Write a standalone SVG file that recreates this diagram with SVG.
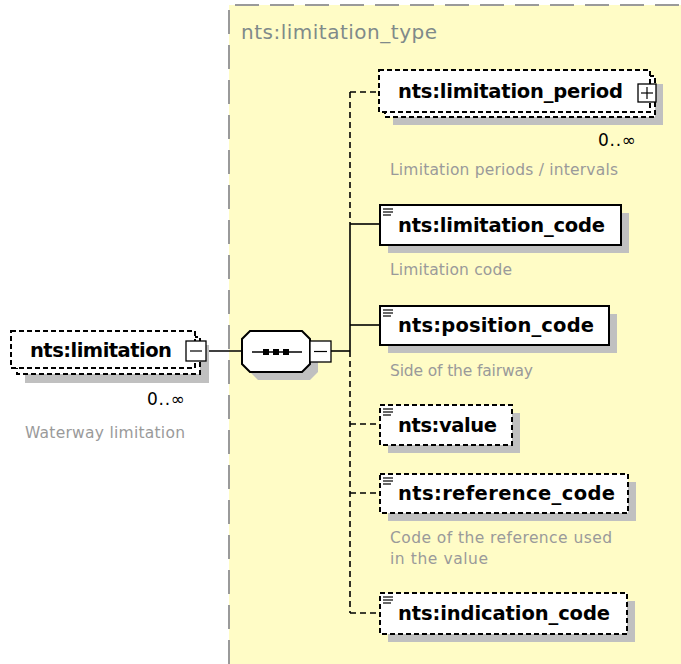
<svg xmlns="http://www.w3.org/2000/svg" width="681" height="664" viewBox="0 0 681 664">
<style>
.bgfill{fill:#fffcc6;stroke:none}
.bg{fill:none;stroke:#9a9a9a;stroke-width:2;stroke-dasharray:24 11}
.shadow{fill:#c0c0c0;stroke:none}
.box{fill:#fff;stroke:#000;stroke-width:2}
.opt{stroke-dasharray:5 3}
.btn{fill:#fff;stroke:#000;stroke-width:1.3}
.ln{fill:none;stroke:#000;stroke-width:1.6}
.dl{fill:none;stroke:#000;stroke-width:1.6;stroke-dasharray:6 4}
.ic{stroke:#000;stroke-width:1.2}
.name{font-family:"DejaVu Sans",sans-serif;font-weight:bold;font-size:19.5px;fill:#000}
.desc{font-family:"DejaVu Sans",sans-serif;font-size:15.5px;fill:#9a9a9a}
.title{font-family:"DejaVu Sans",sans-serif;font-size:20px;fill:#7f8a8a}
.mult{font-family:"DejaVu Sans",sans-serif;font-size:17px;fill:#000}
</style>
<defs>
<g id="icon"><line class="ic" x1="0" y1="0" x2="10" y2="0"/><line class="ic" x1="0" y1="3" x2="10" y2="3"/><line class="ic" x1="0" y1="6" x2="8" y2="6"/></g>
</defs>
<g id="limitation_type">
<rect class="bgfill" x="229" y="5" width="460" height="670"/>
<path class="bg" d="M229 664 V5 H690"/>
<text class="title" x="241" y="39" textLength="196">nts:limitation_type</text>
</g>
<g id="connectors">
<line class="ln" x1="206" y1="351" x2="242" y2="351"/>
<line class="ln" x1="331" y1="351" x2="350" y2="351"/>
<line class="dl" x1="350" y1="92" x2="350" y2="224"/>
<line class="ln" x1="350" y1="224" x2="350" y2="351"/>
<line class="dl" x1="350" y1="351" x2="350" y2="613"/>
<line class="dl" x1="350" y1="92" x2="379" y2="92"/>
<line class="ln" x1="350" y1="224" x2="380" y2="224"/>
<line class="ln" x1="350" y1="325" x2="380" y2="325"/>
<line class="dl" x1="350" y1="424" x2="380" y2="424"/>
<line class="dl" x1="350" y1="493" x2="380" y2="493"/>
<line class="dl" x1="350" y1="613" x2="380" y2="613"/>
</g>
<g id="limitation">
<rect class="shadow" x="25" y="345" width="184" height="38"/>
<rect class="box opt" x="17" y="337" width="183" height="37"/>
<rect class="box opt" x="11" y="331" width="184" height="37"/>
<text class="name" x="30" y="357" textLength="142">nts:limitation</text>
<rect class="btn" x="186" y="341" width="20" height="20"/>
<line class="ic" x1="190" y1="351" x2="202" y2="351"/>
<text class="mult" x="147" y="405" textLength="38">0..∞</text>
<text class="desc" x="25" y="438" textLength="160">Waterway limitation</text>
</g>
<g id="sequence">
<polygon class="shadow" points="258,339 310,339 318,347 318,372 310,380 258,380 250,372 250,347"/>
<polygon class="box" points="250,331 302,331 310,339 310,364 302,372 250,372 242,364 242,339"/>
<line class="ln" x1="252" y1="352" x2="302" y2="352"/>
<rect x="263" y="349" width="6" height="6" fill="#000"/>
<rect x="273" y="349" width="6" height="6" fill="#000"/>
<rect x="283" y="349" width="6" height="6" fill="#000"/>
<rect class="btn" x="310" y="341" width="21" height="21"/>
<line class="ic" x1="314" y1="351.5" x2="327" y2="351.5"/>
</g>
<g id="limitation_period">
<rect class="shadow" x="393" y="84" width="270" height="41"/>
<rect class="box opt" x="385" y="76" width="270" height="41"/>
<rect class="box opt" x="379" y="70" width="271" height="42"/>
<text class="name" x="398" y="98" textLength="225">nts:limitation_period</text>
<rect class="btn" x="638" y="84" width="18" height="18"/>
<line class="ic" x1="641" y1="93" x2="653" y2="93"/>
<line class="ic" x1="647" y1="87" x2="647" y2="99"/>
<text class="mult" x="598" y="146" textLength="38">0..∞</text>
<text class="desc" x="390" y="175" textLength="228">Limitation periods / intervals</text>
</g>
<g id="limitation_code">
<rect class="shadow" x="388" y="213" width="241" height="40"/>
<rect class="box" x="380" y="205" width="241" height="40"/>
<use href="#icon" x="383" y="209"/>
<text class="name" x="398" y="232" textLength="207">nts:limitation_code</text>
<text class="desc" x="390" y="275" textLength="122">Limitation code</text>
</g>
<g id="position_code">
<rect class="shadow" x="388" y="314" width="229" height="39"/>
<rect class="box" x="380" y="306" width="229" height="39"/>
<use href="#icon" x="383" y="310"/>
<text class="name" x="398" y="332" textLength="196">nts:position_code</text>
<text class="desc" x="390" y="376" textLength="143">Side of the fairway</text>
</g>
<g id="value">
<rect class="shadow" x="388" y="413" width="132" height="40"/>
<rect class="box opt" x="380" y="405" width="132" height="40"/>
<use href="#icon" x="383" y="409"/>
<text class="name" x="398" y="432" textLength="99">nts:value</text>
</g>
<g id="reference_code">
<rect class="shadow" x="388" y="482" width="248" height="39"/>
<rect class="box opt" x="380" y="474" width="248" height="39"/>
<use href="#icon" x="383" y="478"/>
<text class="name" x="398" y="500" textLength="217">nts:reference_code</text>
<text class="desc" x="390" y="543" textLength="222">Code of the reference used</text>
<text class="desc" x="390" y="564" textLength="98">in the value</text>
</g>
<g id="indication_code">
<rect class="shadow" x="388" y="601" width="247" height="41"/>
<rect class="box opt" x="380" y="593" width="247" height="41"/>
<use href="#icon" x="383" y="597"/>
<text class="name" x="398" y="620" textLength="212">nts:indication_code</text>
</g>
</svg>
